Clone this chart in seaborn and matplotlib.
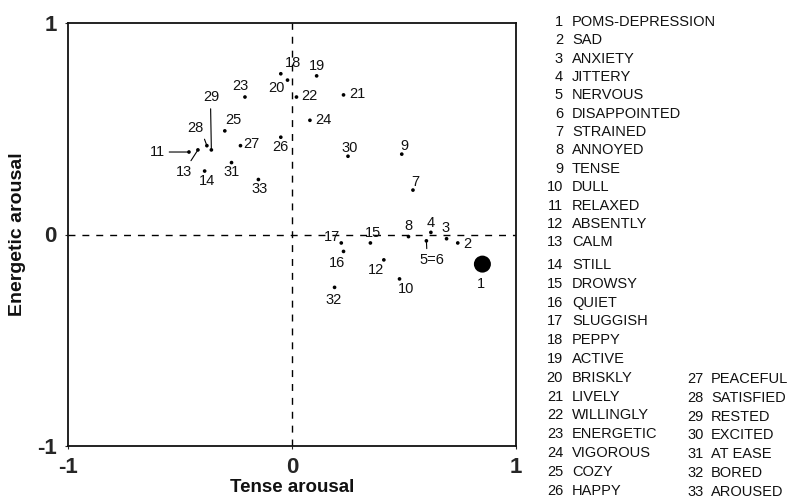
#!/usr/bin/env python

"""
Energetic vs tense arousal loadings of mood adjectives (33 items).
"""

import pandas as pd
import matplotlib
matplotlib.use("Agg")
import matplotlib.pyplot as plt
import seaborn as sns

# point labels, tense arousal (x) and energetic arousal (y)
labels = ["1", "2", "3", "4", "5=6", "7", "8", "9", "10", "11", "12", "13",
          "14", "15", "16", "17", "18", "19", "20", "21", "22", "23", "24",
          "25", "26", "27", "28", "29", "30", "31", "32", "33"]
tense = [0.85, 0.74, 0.69, 0.62, 0.60, 0.54, 0.52, 0.49, 0.48, -0.46, 0.41,
         -0.42, -0.39, 0.35, 0.23, 0.22, -0.02, 0.11, -0.05, 0.23, 0.02,
         -0.21, 0.08, -0.30, -0.05, -0.23, -0.38, -0.36, 0.25, -0.27, 0.19,
         -0.15]
energetic = [-0.14, -0.04, -0.02, 0.01, -0.03, 0.21, -0.01, 0.38, -0.21,
             0.39, -0.12, 0.40, 0.30, -0.04, -0.08, -0.04, 0.73, 0.75, 0.76,
             0.66, 0.65, 0.65, 0.54, 0.49, 0.46, 0.42, 0.42, 0.40, 0.37, 0.34,
             -0.25, 0.26]

# label offsets in points from each dot
offsets = {"1": (-1, -14), "2": (7, -1), "3": (-1, 8), "4": (0, 7),
           "5=6": (4, -14), "7": (2, 6), "8": (0, 8), "9": (2, 6),
           "10": (5, -7), "11": (-23, 0), "12": (-6, -7), "13": (-10, -16),
           "14": (2, -7), "15": (2, 7), "16": (-5, -8), "17": (-7, 4),
           "18": (4, 12), "19": (0, 7), "20": (-3, -10), "21": (10, 1),
           "22": (9, 1), "23": (-3, 8), "24": (10, 0), "25": (6, 8),
           "26": (0, -7), "27": (8, 1), "28": (-8, 13), "29": (0, 38),
           "30": (1, 6), "31": (0, -7), "32": (-1, -9), "33": (1, -7)}
# items whose label is joined to the dot by a line
leaders = {"11": (1.0, 0.5), "13": (0.75, 1.0), "28": (0.9, 0.1),
           "29": (0.45, 0.0), "5=6": (0.3, 1.0)}

items = ["POMS-DEPRESSION", "SAD", "ANXIETY", "JITTERY", "NERVOUS",
         "DISAPPOINTED", "STRAINED", "ANNOYED", "TENSE", "DULL", "RELAXED",
         "ABSENTLY", "CALM", "STILL", "DROWSY", "QUIET", "SLUGGISH", "PEPPY",
         "ACTIVE", "BRISKLY", "LIVELY", "WILLINGLY", "ENERGETIC", "VIGOROUS",
         "COZY", "HAPPY", "PEACEFUL", "SATISFIED", "RESTED", "EXCITED",
         "AT EASE", "BORED", "AROUSED"]


def main():

    df = pd.DataFrame({"label": labels, "x": tense, "y": energetic})
    df["kind"] = ["scale" if l == "1" else "item" for l in labels]

    sns.set_style("ticks")
    plt.rcParams['font.family'] = ["Liberation Sans", "DejaVu Sans"]
    almost_black = '#111111'
    plt.rcParams['text.color'] = almost_black
    plt.rcParams['axes.edgecolor'] = almost_black
    plt.rcParams['axes.labelcolor'] = almost_black

    fig = plt.figure(figsize=(7.89, 4.99), dpi=100)
    ax = fig.add_axes([68 / 789, 53 / 499, 448 / 789, 423 / 499])

    sns.scatterplot(data=df, x="x", y="y", size="kind",
                    sizes={"scale": 150, "item": 7}, color="black",
                    edgecolor="none", legend=False, ax=ax)

    ax.axhline(0, ls=(0, (5, 5)), color="black", lw=1.0)
    ax.axvline(0, ls=(0, (5, 5)), color="black", lw=1.0)

    for lab, x, y in zip(labels, tense, energetic):
        dx, dy = offsets[lab]
        kw = {}
        if lab in leaders:
            kw["arrowprops"] = dict(arrowstyle="-", color="black", lw=0.8,
                                    relpos=leaders[lab], shrinkA=1,
                                    shrinkB=1)
        ax.annotate(lab, xy=(x, y), xytext=(dx, dy),
                    textcoords="offset points", ha="center", va="center",
                    fontsize=10.5, **kw)

    ax.set_xlim(-1, 1)
    ax.set_ylim(-1, 1)
    ax.set_xticks([-1, 0, 1])
    ax.set_yticks([-1, 0, 1])
    ax.set_xticklabels(["-1", "0", "1"])
    ax.set_yticklabels(["-1", "0", "1"])
    ax.tick_params(length=2, width=0.8, pad=6, labelsize=16)
    for t in ax.get_xticklabels() + ax.get_yticklabels():
        t.set_fontweight("bold")
    for s in ax.spines.values():
        s.set_linewidth(1.3)
        s.set_visible(True)

    ax.set_xlabel("Tense arousal", fontsize=13.5, fontweight="bold",
                  labelpad=1)
    ax.set_ylabel("Energetic arousal", fontsize=14, fontweight="bold",
                  labelpad=8)

    # key of item numbers at the right side
    for i, name in enumerate(items):
        if i < 13:
            xn, xt, yp = 563, 572, 22 + 18.35 * i
        elif i < 26:
            xn, xt, yp = 563, 572, 265 + 18.8 * (i - 13)
        else:
            xn, xt, yp = 704, 711, 379 + 18.8 * (i - 26)
        fig.text(xn / 789, 1 - yp / 499, str(i + 1), ha="right",
                 va="center", fontsize=10.5)
        fig.text(xt / 789, 1 - yp / 499, name, ha="left", va="center",
                 fontsize=10.5)

    fig.savefig("out.png", dpi=100)


if __name__ == "__main__":

    main()
